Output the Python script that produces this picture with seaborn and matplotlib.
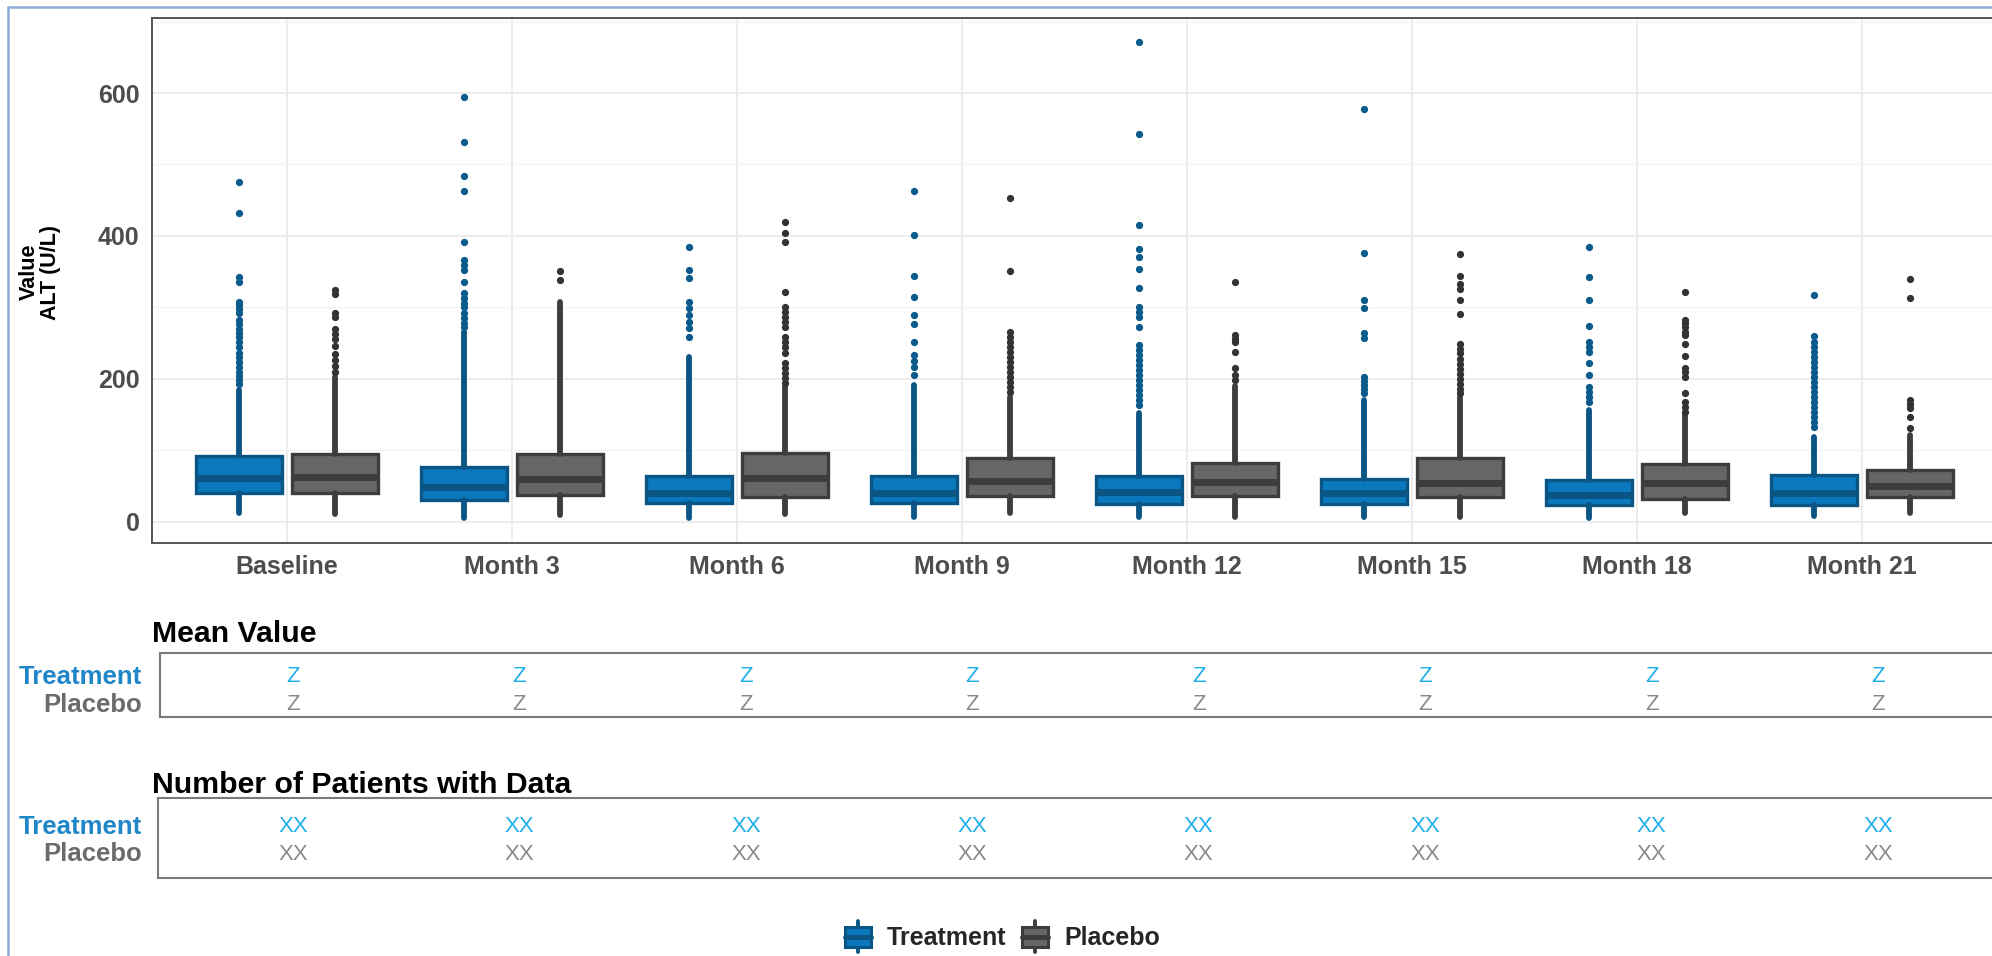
import numpy as np
import pandas as pd
import seaborn as sns
import matplotlib
matplotlib.use("Agg")
import matplotlib.pyplot as plt
import matplotlib.transforms as mtransforms
from matplotlib.patches import Rectangle, Patch
from matplotlib.lines import Line2D
from matplotlib.legend_handler import HandlerBase

# ---------------- data ----------------
visits = ["Baseline", "Month 3", "Month 6", "Month 9", "Month 12", "Month 15", "Month 18", "Month 21"]
groups = ["Treatment", "Placebo"]

trt_q1 = [40, 30, 26, 26, 24, 24, 23, 23]
trt_med = [61, 48, 40, 40, 41, 40, 37, 40]
trt_q3 = [92, 76, 64, 64, 64, 59, 58, 65]
trt_lo = [12, 5, 5, 6, 6, 7, 5, 8]
trt_hi = [184, 266, 231, 191, 152, 170, 156, 119]
trt_fliers = [
    [476, 432, 343, 336, 308, 303, 298, 292, 282, 276, 270, 264, 258, 252, 245, 236, 230, 224, 217, 210, 204, 198, 192],
    [595, 531, 484, 463, 391, 366, 359, 352, 336, 320, 313, 306, 301, 292, 285, 278, 273],
    [384, 352, 341, 308, 299, 289, 280, 271, 259],
    [463, 401, 344, 315, 289, 276, 251, 233, 225, 217, 205],
    [672, 542, 415, 382, 370, 353, 327, 301, 294, 287, 272, 247, 240, 233, 226, 219, 212, 205, 198, 191, 184, 177, 170, 163],
    [577, 376, 310, 299, 264, 257, 203, 197, 191, 185, 180],
    [384, 343, 310, 274, 252, 245, 238, 222, 205, 189, 181, 174, 167],
    [317, 260, 252, 245, 238, 231, 224, 217, 210, 203, 196, 189, 182, 175, 168, 161, 154, 147, 140, 133],
]

pbo_q1 = [40, 37, 34, 36, 36, 34, 32, 34]
pbo_med = [62, 59, 61, 57, 55, 54, 54, 50]
pbo_q3 = [95, 95, 96, 89, 82, 89, 81, 72]
pbo_lo = [11, 9, 11, 12, 7, 7, 12, 12]
pbo_hi = [203, 307, 189, 175, 190, 175, 150, 121]
pbo_fliers = [
    [324, 318, 292, 286, 270, 262, 255, 246, 234, 226, 218, 210],
    [351, 338],
    [420, 404, 392, 322, 301, 294, 287, 280, 273, 259, 252, 245, 236, 222, 215, 208, 201, 194],
    [453, 351, 265, 258, 251, 244, 237, 230, 223, 216, 209, 202, 195, 188, 181],
    [336, 261, 256, 251, 237, 215, 205, 198],
    [374, 344, 332, 325, 310, 290, 248, 241, 236, 228, 221, 214, 207, 200, 193, 186, 180],
    [321, 282, 278, 273, 266, 261, 248, 232, 215, 209, 203, 180, 168, 161, 154],
    [340, 313, 170, 165, 159, 146, 131],
]

mean_trt = ["Z"] * 8
mean_pbo = ["Z"] * 8
n_trt = ["XX"] * 8
n_pbo = ["XX"] * 8

y_ticks = [0, 200, 400, 600]

# ---------------- style ----------------
sns.set_theme(style="whitegrid")
plt.rcParams["font.family"] = ["Liberation Sans", "DejaVu Sans"]

W, H = 1992, 956
fig = plt.figure(figsize=(W / 100, H / 100), dpi=100)
fig.patch.set_facecolor("white")

def fx(px):
    return px / W

def fy(py):
    return 1 - py / H

TRT_FILL, TRT_EDGE, TRT_FLY = "#0a78bd", "#0b5585", "#0b5a8c"
PBO_FILL, PBO_EDGE, PBO_FLY = "#666666", "#3d3d3d", "#333333"
TRT_LAB, PBO_LAB = "#1f87c7", "#6b6b6b"
TRT_TXT, PBO_TXT = "#1fb0ea", "#8a8a8a"

# ---------------- main box plot ----------------
ax = fig.add_axes([fx(152), fy(543), fx(1997) - fx(152), fy(18) - fy(543)])
ax.set_facecolor("white")

offset, bw = 0.214, 0.384
x_pos = np.arange(len(visits))

def make_stats(q1, med, q3, lo, hi, fl):
    return [dict(q1=a, med=b, q3=c, whislo=d, whishi=e, fliers=f, label=v)
            for a, b, c, d, e, f, v in zip(q1, med, q3, lo, hi, fl, visits)]

for stats, pos, fill, edge, fly in [
    (make_stats(trt_q1, trt_med, trt_q3, trt_lo, trt_hi, trt_fliers), x_pos - offset, TRT_FILL, TRT_EDGE, TRT_FLY),
    (make_stats(pbo_q1, pbo_med, pbo_q3, pbo_lo, pbo_hi, pbo_fliers), x_pos + offset, PBO_FILL, PBO_EDGE, PBO_FLY),
]:
    ax.bxp(stats, positions=pos, widths=bw, patch_artist=True, showcaps=False,
           boxprops=dict(facecolor=fill, edgecolor=edge, linewidth=2.4),
           medianprops=dict(color=edge, linewidth=5),
           whiskerprops=dict(color=edge, linewidth=4.2),
           flierprops=dict(marker="o", markerfacecolor=fly, markeredgecolor=fly, markersize=4.2, linestyle="none"),
           manage_ticks=False, zorder=3)

ax.set_xlim(-0.6, len(visits) - 1 + 0.6)
ax.set_ylim(-30, 705)
ax.set_xticks(x_pos)
ax.set_xticklabels(visits)
ax.set_yticks(y_ticks)
ax.set_yticks([100, 300, 500, 700], minor=True)
ax.grid(True, which="major", color="#ebebeb", linewidth=1.3, zorder=0)
ax.grid(True, which="minor", axis="y", color="#f3f3f3", linewidth=0.9, zorder=0)
ax.set_axisbelow(True)
ax.tick_params(axis="both", which="major", length=5, width=1.2, color="#444444",
               labelsize=18, labelcolor="#4d4d4d", pad=4)
ax.tick_params(axis="y", which="minor", length=0)
for lab in ax.get_xticklabels() + ax.get_yticklabels():
    lab.set_fontweight("bold")
for sp in ax.spines.values():
    sp.set_color("#555555")
    sp.set_linewidth(1.4)
ax.set_xlabel("")
ax.set_ylabel("")
fig.text(fx(40), fy(272), "Value\nALT (U/L)", rotation=90, ha="center", va="center",
         multialignment="center", fontsize=15.5, fontweight="bold", color="black", linespacing=1.0)

# ---------------- summary tables ----------------
def table_axes(left, top, bottom, title, title_y, trt_vals, pbo_vals, y_trt, y_pbo):
    t = fig.add_axes([fx(left), fy(bottom), fx(2014) - fx(left), fy(top) - fy(bottom)])
    t.set_facecolor("white")
    t.set_xlim(-(293 - left) / 226.4, 7.6)
    t.set_ylim(0, 1)
    t.set_xticks([])
    t.set_yticks([])
    t.grid(False)
    for sp in t.spines.values():
        sp.set_color("#7a7a7a")
        sp.set_linewidth(1.5)
    for i in range(len(visits)):
        t.text(i, y_trt, trt_vals[i], ha="center", va="center", fontsize=16,
               color=TRT_TXT)
        t.text(i, y_pbo, pbo_vals[i], ha="center", va="center", fontsize=16,
               color=PBO_TXT)
    tr = mtransforms.blended_transform_factory(fig.transFigure, t.transAxes)
    t.text(fx(142), y_trt, "Treatment", transform=tr, ha="right", va="center",
           fontsize=18.5, fontweight="bold", color=TRT_LAB)
    t.text(fx(142), y_pbo, "Placebo", transform=tr, ha="right", va="center",
           fontsize=18.5, fontweight="bold", color=PBO_LAB)
    fig.text(fx(152), fy(title_y), title, ha="left", va="center", fontsize=21.8,
             fontweight="bold", color="black")
    return t

table_axes(160, 653, 717, "Mean Value", 634, mean_trt, mean_pbo, 0.625, 0.19)
table_axes(158, 798, 878, "Number of Patients with Data", 785, n_trt, n_pbo, 0.64, 0.30)

# ---------------- legend ----------------
class BoxKeyHandler(HandlerBase):
    def create_artists(self, legend, orig_handle, xdescent, ydescent, width, height, fontsize, trans):
        fc = orig_handle.get_facecolor()
        ec = orig_handle.get_edgecolor()
        cx = width / 2 - xdescent
        y0 = -ydescent
        wl = Line2D([cx, cx], [y0 - height * 0.2, y0 + height * 1.2], color=ec, lw=2.8, transform=trans)
        box = Rectangle((cx - width * 0.42, y0 + height * 0.05), width * 0.84, height * 0.9,
                        facecolor=fc, edgecolor=ec, lw=2.2, transform=trans)
        med = Line2D([cx - width * 0.42, cx + width * 0.42], [y0 + height * 0.5] * 2,
                     color=ec, lw=3.5, transform=trans)
        return [wl, box, med]

handles = [Patch(facecolor=TRT_FILL, edgecolor=TRT_EDGE, label=groups[0]),
           Patch(facecolor=PBO_FILL, edgecolor=PBO_EDGE, label=groups[1])]
leg = fig.legend(handles=handles, loc="center", bbox_to_anchor=(fx(1001), fy(938)),
                 bbox_transform=fig.transFigure, ncol=2, frameon=False,
                 handler_map={Patch: BoxKeyHandler()}, handlelength=1.25, handleheight=1.0,
                 handletextpad=0.55, columnspacing=0.5,
                 prop={"size": 18, "weight": "bold"})

# ---------------- outer light-blue frame ----------------
fig.add_artist(Line2D([fx(8), fx(8)], [0, fy(7)], color="#8eaadb", lw=1.8))
fig.add_artist(Line2D([fx(8), 1], [fy(7), fy(7)], color="#8eaadb", lw=1.8))

fig.savefig("out.png", dpi=100, facecolor="white")
